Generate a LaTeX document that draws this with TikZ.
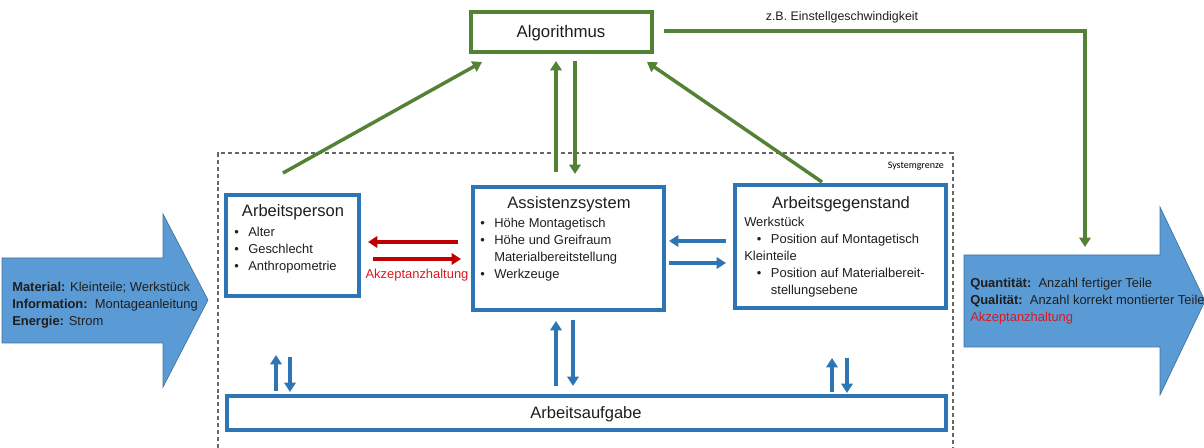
\documentclass[tikz,border=0pt]{standalone}
\usepackage{fontspec}
\setmainfont{Liberation Sans}
\newfontfamily\calib{Carlito}
\usetikzlibrary{arrows.meta,fit}
\definecolor{bxblue}{RGB}{46,117,182}
\definecolor{arrfill}{RGB}{91,155,213}
\definecolor{arrline}{RGB}{65,113,156}
\definecolor{grn}{RGB}{84,130,53}
\definecolor{rd}{RGB}{192,0,0}
\definecolor{rdtxt}{RGB}{215,25,32}
\definecolor{txt}{RGB}{30,30,30}
\newcommand\bul{\makebox[10.5pt][l]{\textbullet}}
\tikzset{
  bbox/.style={draw=bxblue, line width=2.4pt, inner sep=0pt},
  gbox/.style={draw=grn, line width=2.4pt, inner sep=0pt},
  title/.style={font=\fontsize{12.4}{15}\selectfont, text=txt, inner sep=0pt},
  body/.style={font=\fontsize{9.7}{12.75}\selectfont, text=txt, align=left, inner sep=0pt},
  garr/.style={draw=grn, line width=2.6pt, -{Triangle[width=8.5pt,length=7pt]}},
  barr/.style={draw=bxblue, line width=2.6pt, -{Triangle[width=8.5pt,length=7pt]}},
  rarr/.style={draw=rd, line width=2.6pt, -{Triangle[width=8.5pt,length=7pt]}},
  bigarr/.style={fill=arrfill, draw=arrline, line width=0.5pt},
}
\begin{document}
\begin{tikzpicture}[x=0.75pt,y=-0.75pt]
\useasboundingbox (0,0) rectangle (1204,448);

% big arrows
\path[bigarr] (2,258) -- (163,258) -- (163,214) -- (208,300) -- (163,387) -- (163,343) -- (2,343) -- cycle;
\path[bigarr] (964,255) -- (1160,255) -- (1160,207) -- (1205,301) -- (1160,395) -- (1160,347) -- (964,347) -- cycle;
\node[body, anchor=base west] (inl) at (12,326) {\textbf{Material:} Kleinteile; Werkstück\\\textbf{Information:}\ \ Montageanleitung\\\textbf{Energie:} Strom};
\node[body, anchor=base west] (outl) at (970,322) {\textbf{Quantität:}\ \ Anzahl fertiger Teile\\\textbf{Qualität:}\ \ Anzahl korrekt montierter Teile\\\textcolor{rdtxt}{Akzeptanzhaltung}};

% system boundary
\draw[gray!80!black, line width=0.8pt, dash pattern=on 3pt off 2.2pt] (218,448) -- (218,153) -- (953,153) -- (953,448);
\node[font=\calib\fontsize{7.5}{9}\selectfont, anchor=base east, inner sep=0pt] (sg) at (944,169) {Systemgrenze};

% Algorithmus
\node[gbox, fit={(471,12)(652,52)}] (alg) {};
\node[font=\fontsize{12.6}{15}\selectfont, text=txt, anchor=base, inner sep=0pt] (algt) at (561,38) {Algorithmus};

% boxes
\node[bbox, fit={(226,195)(359,296)}] (ap) {};
\node[title, anchor=base] (apt) at (293,217) {Arbeitsperson};
\node[body, anchor=base west] (apl) at (234,271) {\bul Alter\\\bul Geschlecht\\\bul Anthropometrie};

\node[bbox, fit={(473,187)(664,310)}] (as) {};
\node[title, anchor=base] (ast) at (569,209) {Assistenzsystem};
\node[body, anchor=base west] (asl) at (480,279) {\bul Höhe Montagetisch\\\bul Höhe und Greifraum\\\hspace*{10.5pt}Materialbereitstellung\\\bul Werkzeuge};

\node[bbox, fit={(735,185)(946,308)}] (ag) {};
\node[title, anchor=base] (agt) at (841,209) {Arbeitsgegenstand};
\node[body, anchor=base west] (agl) at (744,295) {Werkstück\\\hspace*{9.5pt}\bul Position auf Montagetisch\\Kleinteile\\\hspace*{9.5pt}\bul Position auf Materialbereit-\\\hspace*{20pt}stellungsebene};

\node[bbox, fit={(227,396)(946,430)}] (au) {};
\node[title, anchor=base] (aut) at (586,419) {Arbeitsaufgabe};

% green connectors
\coordinate (g1a) at (283,173); \coordinate (g1b) at (482,62);
\coordinate (g2a) at (556,172); \coordinate (g2b) at (556,61);
\coordinate (g3a) at (575,61);  \coordinate (g3b) at (575,174);
\coordinate (g4a) at (822,182); \coordinate (g4b) at (647,62);
\draw[garr] (g1a) -- (g1b);
\draw[garr] (g2a) -- (g2b);
\draw[garr] (g3a) -- (g3b);
\draw[garr] (g4a) -- (g4b);
\coordinate (z1) at (664,31); \coordinate (z2) at (1085,31); \coordinate (z3) at (1085,247);
\draw[garr] (z1) -- (z2) -- (z3);
\node[font=\fontsize{9.3}{11}\selectfont, text=txt, anchor=base, inner sep=0pt] (zb) at (842,21) {z.B. Einstellgeschwindigkeit};

% red connectors
\coordinate (r1a) at (458,242); \coordinate (r1b) at (368,242);
\coordinate (r2a) at (373,259); \coordinate (r2b) at (461,259);
\draw[rarr] (r1a) -- (r1b);
\draw[rarr] (r2a) -- (r2b);
\node[font=\fontsize{9.7}{12}\selectfont, text=rdtxt, anchor=base, inner sep=0pt] (akz) at (417,279) {Akzeptanzhaltung};

% blue connectors
\coordinate (b1a) at (726,241); \coordinate (b1b) at (669,241);
\coordinate (b2a) at (669,263); \coordinate (b2b) at (726,263);
\draw[barr] (b1a) -- (b1b);
\draw[barr] (b2a) -- (b2b);

\coordinate (v1a) at (276,391); \coordinate (v1b) at (276,355);
\coordinate (v2a) at (290,357); \coordinate (v2b) at (290,392);
\coordinate (v3a) at (556,386); \coordinate (v3b) at (556,321);
\coordinate (v4a) at (573,320); \coordinate (v4b) at (573,386);
\coordinate (v5a) at (832,392); \coordinate (v5b) at (832,358);
\coordinate (v6a) at (847,358); \coordinate (v6b) at (847,393);
\draw[barr] (v1a) -- (v1b);
\draw[barr] (v2a) -- (v2b);
\draw[barr] (v3a) -- (v3b);
\draw[barr] (v4a) -- (v4b);
\draw[barr] (v5a) -- (v5b);
\draw[barr] (v6a) -- (v6b);
\end{tikzpicture}
\end{document}
